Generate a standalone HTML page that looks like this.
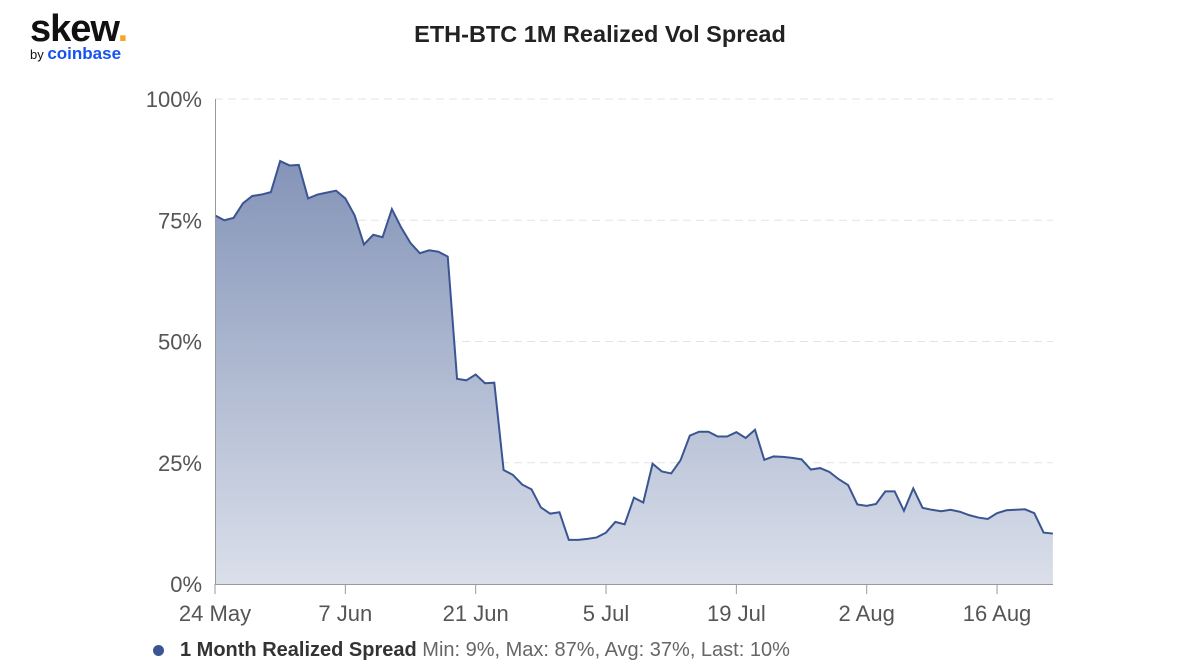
<!DOCTYPE html>
<html><head><meta charset="utf-8"><style>
body{margin:0;width:1200px;height:670px;background:#fff;font-family:"Liberation Sans",sans-serif;overflow:hidden;position:relative}
#logo{position:absolute;left:30px;top:8px}
#title{position:absolute;left:0;width:1200px;top:21px;text-align:center;font-size:23.5px;font-weight:bold;color:#222}
#legend{position:absolute;left:152px;top:639px;font-size:20px;color:#666;white-space:nowrap}
</style></head><body>
<div id="logo">
<div style="font-size:38px;font-weight:bold;color:#111;letter-spacing:-1px;line-height:42px">skew<span style="color:#f5a623">.</span></div>
<div style="font-size:13px;color:#111;margin-top:-4px;line-height:16px">by <span style="color:#1652f0;font-weight:bold;font-size:17px">coinbase</span></div>
</div>
<div id="title">ETH-BTC 1M Realized Vol Spread</div>
<svg id="chart" width="1200" height="670" style="position:absolute;left:0;top:0">
<defs><linearGradient id="g" x1="0" y1="0" x2="0" y2="1"><stop offset="0" stop-color="#8494b8"/><stop offset="1" stop-color="#dadfea"/></linearGradient></defs>
</svg>
<div id="legend"><span style="display:inline-block;width:11px;height:11px;border-radius:50%;background:#3b5592;margin-left:1px;margin-right:16px;vertical-align:middle"></span><b style="color:#333">1 Month Realized Spread</b> <span id="stats"></span></div>
<script>
const values=[76,75,75.5,78.5,80,80.3,80.8,87.2,86.3,86.4,79.5,80.3,80.7,81.1,79.5,76,70,72,71.5,77.3,73.5,70.3,68.2,68.8,68.5,67.5,42.3,42,43.2,41.4,41.5,23.5,22.5,20.5,19.5,15.8,14.5,14.8,9.1,9.1,9.3,9.6,10.6,12.8,12.3,17.8,16.8,24.8,23.2,22.8,25.5,30.6,31.4,31.4,30.4,30.4,31.3,30.1,31.8,25.6,26.3,26.2,26,25.7,23.6,23.9,23.1,21.6,20.4,16.4,16.1,16.5,19.1,19.1,15.1,19.7,15.7,15.3,15,15.3,14.9,14.2,13.7,13.4,14.6,15.2,15.3,15.4,14.6,10.6,10.4];
const xTickLabels=["24 May","7 Jun","21 Jun","5 Jul","19 Jul","2 Aug","16 Aug"];
const xTickDays=[0,14,28,42,56,70,84];
const yTicks=[0,25,50,75,100];
const NS="http://www.w3.org/2000/svg",svg=document.getElementById('chart');
const X=d=>215+d*9.31, Y=v=>584-v*4.85;
function mk(t,a){const e=document.createElementNS(NS,t);for(const k in a)e.setAttribute(k,a[k]);svg.appendChild(e);return e;}
yTicks.forEach(v=>{
 if(v>0){const l=mk('line',{x1:215,x2:1053,y1:Y(v),y2:Y(v),stroke:'#e3e3e3','stroke-dasharray':'8,5'});
 
 }
 const t=mk('text',{x:202,y:Y(v)+8,'text-anchor':'end','font-size':22,fill:'#555','font-family':'Liberation Sans'});t.textContent=v+'%';
 
 
});
let pts=values.map((v,i)=>X(i)+','+Y(v));
const area=mk('polygon',{points:X(0)+','+Y(0)+' '+pts.join(' ')+' '+X(values.length-1)+','+Y(0),fill:'url(#g)'});


const line=mk('polyline',{points:pts.join(' '),fill:'none',stroke:'#3b5592','stroke-width':2});


const ax=mk('line',{x1:215,x2:1053,y1:584.5,y2:584.5,stroke:'#999'});


const ay=mk('line',{x1:215.5,x2:215.5,y1:99,y2:584,stroke:'#999'});


xTickDays.forEach((d,i)=>{
 const tk=mk('line',{x1:X(d),x2:X(d),y1:584,y2:594,stroke:'#999'});
 
 
 const t=mk('text',{x:X(d),y:621,'text-anchor':'middle','font-size':22,fill:'#555','font-family':'Liberation Sans'});t.textContent=xTickLabels[i];
 
 
});
const mn=Math.min(...values),mx=Math.max(...values),avg=values.reduce((a,b)=>a+b,0)/values.length;
document.getElementById('stats').textContent=`Min: ${Math.round(mn)}%, Max: ${Math.round(mx)}%, Avg: ${Math.round(avg)}%, Last: ${Math.round(values[values.length-1])}%`;
</script>
</body></html>
